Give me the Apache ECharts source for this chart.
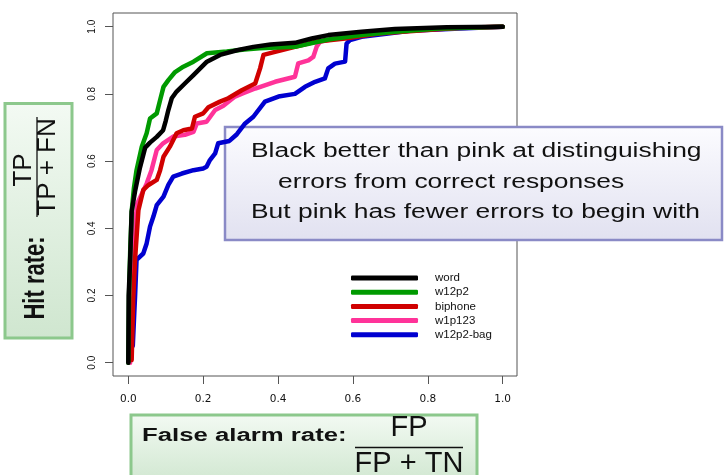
<!DOCTYPE html>
<html><head><meta charset="utf-8">
<script src="https://cdn.jsdelivr.net/npm/echarts@6/dist/echarts.min.js"></script>
<style>html,body{margin:0;padding:0;background:#fff}#c{width:724px;height:475px}</style>
</head><body><div id="c"></div><script>
const seriesNames = ['word', 'w12p2', 'biphone', 'w1p123', 'w12p2-bag'];
const seriesColors = ['#000000', '#009a00', '#d00000', '#ff3399', '#0000d0'];

const wordX = [0, 0.001, 0.005, 0.009, 0.018, 0.031, 0.045, 0.058, 0.076, 0.093, 0.1, 0.107, 0.116, 0.129, 0.151, 0.174, 0.192, 0.21, 0.245, 0.29, 0.334, 0.38, 0.445, 0.49, 0.534, 0.623, 0.712, 0.85, 1];
const wordY = [0, 0.2, 0.31, 0.45, 0.51, 0.58, 0.64, 0.655, 0.672, 0.692, 0.72, 0.752, 0.787, 0.807, 0.831, 0.856, 0.876, 0.896, 0.916, 0.93, 0.94, 0.947, 0.952, 0.965, 0.975, 0.985, 0.993, 0.998, 1];

const w12p2X = [0, 0.002, 0.005, 0.009, 0.015, 0.022, 0.036, 0.049, 0.058, 0.076, 0.085, 0.094, 0.107, 0.125, 0.147, 0.174, 0.21, 0.263, 0.31, 0.35, 0.445, 0.534, 0.623, 0.712, 0.84, 1];
const w12p2Y = [0, 0.2, 0.33, 0.45, 0.52, 0.573, 0.643, 0.683, 0.727, 0.742, 0.782, 0.821, 0.841, 0.865, 0.881, 0.896, 0.921, 0.926, 0.932, 0.936, 0.94, 0.962, 0.975, 0.985, 0.995, 1];

const biphoneX = [0.009, 0.013, 0.018, 0.027, 0.04, 0.054, 0.076, 0.085, 0.094, 0.111, 0.129, 0.147, 0.17, 0.178, 0.2, 0.214, 0.245, 0.267, 0.303, 0.339, 0.352, 0.361, 0.392, 0.445, 0.499, 0.579, 0.668, 0.797, 0.886, 1];
const biphoneY = [0.008, 0.187, 0.306, 0.454, 0.514, 0.529, 0.544, 0.573, 0.613, 0.643, 0.683, 0.692, 0.697, 0.732, 0.742, 0.76, 0.777, 0.787, 0.811, 0.831, 0.876, 0.916, 0.925, 0.94, 0.955, 0.965, 0.98, 0.99, 0.997, 1];

const w1p123X = [0.005, 0.01, 0.015, 0.024, 0.049, 0.062, 0.076, 0.093, 0.12, 0.151, 0.174, 0.183, 0.209, 0.232, 0.254, 0.285, 0.307, 0.339, 0.392, 0.445, 0.454, 0.481, 0.494, 0.503, 0.512, 0.552, 0.623, 0.708, 0.84, 1];
const w1p123Y = [0, 0.2, 0.385, 0.474, 0.533, 0.573, 0.633, 0.653, 0.673, 0.678, 0.687, 0.712, 0.717, 0.752, 0.765, 0.792, 0.802, 0.816, 0.836, 0.851, 0.891, 0.9, 0.91, 0.94, 0.955, 0.965, 0.975, 0.988, 0.995, 1];

const bagX = [0.012, 0.016, 0.018, 0.022, 0.04, 0.049, 0.058, 0.067, 0.076, 0.094, 0.107, 0.12, 0.143, 0.174, 0.2, 0.209, 0.218, 0.232, 0.24, 0.27, 0.29, 0.312, 0.334, 0.365, 0.401, 0.445, 0.472, 0.499, 0.525, 0.534, 0.552, 0.579, 0.583, 0.592, 0.623, 0.694, 0.752, 0.886, 1];
const bagY = [0.05, 0.15, 0.196, 0.306, 0.325, 0.355, 0.405, 0.435, 0.469, 0.494, 0.529, 0.554, 0.563, 0.573, 0.578, 0.583, 0.603, 0.623, 0.653, 0.66, 0.68, 0.712, 0.732, 0.777, 0.792, 0.80, 0.821, 0.836, 0.846, 0.876, 0.89, 0.896, 0.95, 0.96, 0.97, 0.98, 0.988, 0.995, 1];

const tickLabels = ['0.0', '0.2', '0.4', '0.6', '0.8', '1.0'];

const allX = [wordX, w12p2X, biphoneX, w1p123X, bagX];
const allY = [wordY, w12p2Y, biphoneY, w1p123Y, bagY];

function pairs(xs, ys) { return xs.map((x, i) => [x, ys[i]]); }
function fmt(v) { return v.toFixed(1); }

const series = [];
for (let k = seriesNames.length - 1; k >= 0; k--) {
  series.push({
    name: seriesNames[k], type: 'line', data: pairs(allX[k], allY[k]),
    xAxisIndex: 0, yAxisIndex: 0, clip: false,
    showSymbol: false, symbol: 'none', animation: false,
    lineStyle: { color: seriesColors[k], width: 4.5, cap: 'round', join: 'round' },
    itemStyle: { color: seriesColors[k] }
  });
}

const green = '#8cc88c';
const greenFill = { type: 'linear', x: 0, y: 0, x2: 0, y2: 1, colorStops: [{ offset: 0, color: '#f3faf3' }, { offset: 1, color: '#cfe6cf' }] };

const chart = echarts.init(document.getElementById('c'), null, { renderer: 'canvas' });
chart.setOption({
  backgroundColor: '#ffffff',
  animation: false,
  grid: [
    // data region: exactly 0..1 on both axes
    { left: 128.3, top: 26.7, width: 374.4, height: 336, show: false },
    // frame: the R plot box (4% padding around the data range)
    { left: 113, top: 13, width: 404, height: 363, show: true, borderColor: '#555', borderWidth: 1, backgroundColor: 'transparent' }
  ],
  xAxis: [
    { type: 'value', gridIndex: 0, min: 0, max: 1, interval: 0.2, offset: 13.3,
      axisLine: { show: false, onZero: false }, splitLine: { show: false },
      axisTick: { show: true, inside: false, length: 8, lineStyle: { color: '#555', width: 1 } },
      axisLabel: { formatter: fmt, margin: 18, color: '#111', fontFamily: 'DejaVu Sans', fontSize: 10.5 } },
    { type: 'value', gridIndex: 1, min: 0, max: 1, show: false }
  ],
  yAxis: [
    { type: 'value', gridIndex: 0, min: 0, max: 1, interval: 0.2, offset: 15.3,
      axisLine: { show: false, onZero: false }, splitLine: { show: false },
      axisTick: { show: true, inside: false, length: 8, lineStyle: { color: '#555', width: 1 } },
      axisLabel: { formatter: fmt, rotate: 90, margin: 16, color: '#111', fontFamily: 'Liberation Sans', fontSize: 10 } },
    { type: 'value', gridIndex: 1, min: 0, max: 1, show: false }
  ],
  legend: {
    data: seriesNames, orient: 'vertical', left: 351, top: 272, padding: 0, itemGap: 2.2,
    itemWidth: 67, itemHeight: 5, icon: 'roundRect',
    textStyle: { fontFamily: 'Liberation Sans', fontSize: 11.5, color: '#111', padding: [0, 0, 0, 12] }
  },
  series: series,
  graphic: [
    { type: 'group', z: 100, children: [
      { type: 'rect', shape: { x: 225, y: 127, width: 497, height: 113 },
        style: { fill: { type: 'linear', x: 0, y: 0, x2: 0, y2: 1, colorStops: [{ offset: 0, color: '#fcfcff' }, { offset: 1, color: '#e1e1f0' }] }, stroke: '#8a8ac6', lineWidth: 2.5 } },
      { type: 'text', x: 251, y: 151, scaleX: 1.32, style: { text: 'Black better than pink at distinguishing', font: '20px "Liberation Sans"', fill: '#111', align: 'left', verticalAlign: 'middle' } },
      { type: 'text', x: 278, y: 182, scaleX: 1.32, style: { text: 'errors from correct responses', font: '20px "Liberation Sans"', fill: '#111', align: 'left', verticalAlign: 'middle' } },
      { type: 'text', x: 251, y: 212, scaleX: 1.32, style: { text: 'But pink has fewer errors to begin with', font: '20px "Liberation Sans"', fill: '#111', align: 'left', verticalAlign: 'middle' } }
    ]},
    { type: 'group', z: 100, children: [
      { type: 'rect', shape: { x: 5, y: 103.5, width: 67, height: 234.5 }, style: { fill: greenFill, stroke: green, lineWidth: 3 } },
      { type: 'text', x: 36, y: 278, rotation: Math.PI / 2, scaleY: 1.3, style: { text: 'Hit rate:', font: 'bold 22px "Liberation Sans"', fill: '#111', align: 'center', verticalAlign: 'middle' } },
      { type: 'text', x: 24, y: 170, rotation: Math.PI / 2, style: { text: 'TP', font: '26px "Liberation Sans"', fill: '#111', align: 'center', verticalAlign: 'middle' } },
      { type: 'line', shape: { x1: 37, y1: 117, x2: 37, y2: 217 }, style: { stroke: '#111', lineWidth: 1.3 } },
      { type: 'text', x: 48, y: 167, rotation: Math.PI / 2, style: { text: 'TP + FN', font: '26px "Liberation Sans"', fill: '#111', align: 'center', verticalAlign: 'middle' } }
    ]},
    { type: 'group', z: 100, children: [
      { type: 'rect', shape: { x: 131, y: 415, width: 346, height: 70 }, style: { fill: greenFill, stroke: green, lineWidth: 3 } },
      { type: 'text', x: 142, y: 436, scaleX: 1.43, style: { text: 'False alarm rate:', font: 'bold 18px "Liberation Sans"', fill: '#111', align: 'left', verticalAlign: 'middle' } },
      { type: 'text', x: 409, y: 428, style: { text: 'FP', font: '29px "Liberation Sans"', fill: '#111', align: 'center', verticalAlign: 'middle' } },
      { type: 'line', shape: { x1: 355, y1: 447.5, x2: 463, y2: 447.5 }, style: { stroke: '#111', lineWidth: 1.3 } },
      { type: 'text', x: 409, y: 464, style: { text: 'FP + TN', font: '29px "Liberation Sans"', fill: '#111', align: 'center', verticalAlign: 'middle' } }
    ]}
  ]
});
</script></body></html>
